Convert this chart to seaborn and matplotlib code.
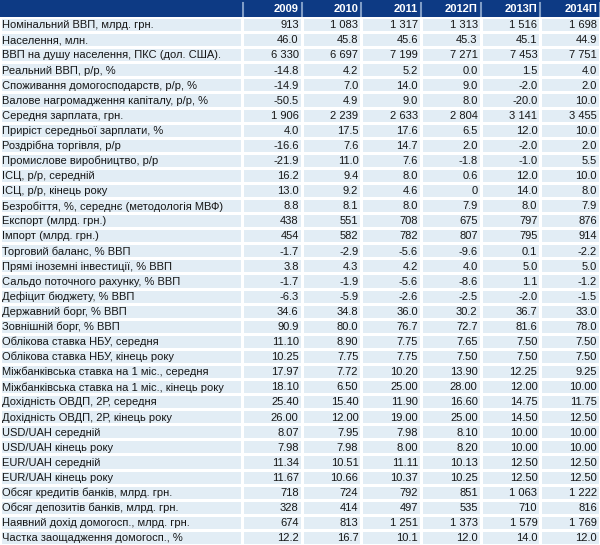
import numpy as np
import matplotlib
matplotlib.use("Agg")
import matplotlib.pyplot as plt
import seaborn as sns
from matplotlib.colors import ListedColormap

# Table data
years = ["2009", "2010", "2011", "2012П", "2013П", "2014П"]

labels = [
    "Номінальний ВВП, млрд. грн.",
    "Населення, млн.",
    "ВВП на душу населення, ПКС (дол. США).",
    "Реальний ВВП, р/р, %",
    "Споживання домогосподарств, р/р, %",
    "Валове нагромадження капіталу, р/р, %",
    "Середня зарплата, грн.",
    "Приріст середньої зарплати, %",
    "Роздрібна торгівля, р/р",
    "Промислове виробництво, р/р",
    "ІСЦ, р/р, середній",
    "ІСЦ, р/р, кінець року",
    "Безробіття, %, середнє (методологія МВФ)",
    "Експорт (млрд. грн.)",
    "Імпорт (млрд. грн.)",
    "Торговий баланс, % ВВП",
    "Прямі іноземні інвестиції, % ВВП",
    "Сальдо поточного рахунку, % ВВП",
    "Дефіцит бюджету, % ВВП",
    "Державний борг, % ВВП",
    "Зовнішній борг, % ВВП",
    "Облікова ставка НБУ, середня",
    "Облікова ставка НБУ, кінець року",
    "Міжбанківська ставка на 1 міс., середня",
    "Міжбанківська ставка на 1 міс., кінець року",
    "Дохідність ОВДП, 2Р, середня",
    "Дохідність ОВДП, 2Р, кінець року",
    "USD/UAH середній",
    "USD/UAH кінець року",
    "EUR/UAH середній",
    "EUR/UAH кінець року",
    "Обсяг кредитів банків, млрд. грн.",
    "Обсяг депозитів банків, млрд. грн.",
    "Наявний дохід домогосп., млрд. грн.",
    "Частка заощадження домогосп., %",
]

y2009 = ["913", "46.0", "6 330", "-14.8", "-14.9", "-50.5", "1 906", "4.0", "-16.6", "-21.9",
         "16.2", "13.0", "8.8", "438", "454", "-1.7", "3.8", "-1.7", "-6.3", "34.6", "90.9",
         "11.10", "10.25", "17.97", "18.10", "25.40", "26.00", "8.07", "7.98", "11.34", "11.67",
         "718", "328", "674", "12.2"]
y2010 = ["1 083", "45.8", "6 697", "4.2", "7.0", "4.9", "2 239", "17.5", "7.6", "11.0",
         "9.4", "9.2", "8.1", "551", "582", "-2.9", "4.3", "-1.9", "-5.9", "34.8", "80.0",
         "8.90", "7.75", "7.72", "6.50", "15.40", "12.00", "7.95", "7.98", "10.51", "10.66",
         "724", "414", "813", "16.7"]
y2011 = ["1 317", "45.6", "7 199", "5.2", "14.0", "9.0", "2 633", "17.6", "14.7", "7.6",
         "8.0", "4.6", "8.0", "708", "782", "-5.6", "4.2", "-5.6", "-2.6", "36.0", "76.7",
         "7.75", "7.75", "10.20", "25.00", "11.90", "19.00", "7.98", "8.00", "11.11", "10.37",
         "792", "497", "1 251", "10.1"]
y2012 = ["1 313", "45.3", "7 271", "0.0", "9.0", "8.0", "2 804", "6.5", "2.0", "-1.8",
         "0.6", "0", "7.9", "675", "807", "-9.6", "4.0", "-8.6", "-2.5", "30.2", "72.7",
         "7.65", "7.50", "13.90", "28.00", "16.60", "25.00", "8.10", "8.20", "10.13", "10.25",
         "851", "535", "1 373", "12.0"]
y2013 = ["1 516", "45.1", "7 453", "1.5", "-2.0", "-20.0", "3 141", "12.0", "-2.0", "-1.0",
         "12.0", "14.0", "8.0", "797", "795", "0.1", "5.0", "1.1", "-2.0", "36.7", "81.6",
         "7.50", "7.50", "12.25", "12.00", "14.75", "14.50", "10.00", "10.00", "12.50", "12.50",
         "1 063", "710", "1 579", "14.0"]
y2014 = ["1 698", "44.9", "7 751", "4.0", "2.0", "10.0", "3 455", "10.0", "2.0", "5.5",
         "10.0", "8.0", "7.9", "876", "914", "-2.2", "5.0", "-1.2", "-1.5", "33.0", "78.0",
         "7.50", "7.50", "9.25", "10.00", "11.75", "12.50", "10.00", "10.00", "12.50", "12.50",
         "1 222", "816", "1 769", "12.0"]

cols = [y2009, y2010, y2011, y2012, y2013, y2014]
cells = np.array(cols).T  # rows x years

plt.rcParams['font.family'] = ['Liberation Sans', 'DejaVu Sans']

navy = "#0D3A84"
body = "#E2EDF5"
sep = "#7F9CC6"
fs = 8.0

W, H = 600, 545
head_h = 17
label_w = 242
fig = plt.figure(figsize=(W / 100, H / 100), dpi=100)

def px_axes(x, y, w, h):
    # y measured from top of the image
    return fig.add_axes([x / W, 1 - (y + h) / H, w / W, h / H])

n = len(labels)
ax_hl = px_axes(0, 0, label_w, head_h)
ax_hr = px_axes(label_w, 0, W - label_w, head_h)
ax_bl = px_axes(0, head_h, label_w, H - head_h)
ax_br = px_axes(label_w, head_h, W - label_w, H - head_h)

cmap_head = ListedColormap([navy])
cmap_body = ListedColormap([body])

sns.heatmap(np.zeros((1, 1)), ax=ax_hl, cmap=cmap_head, cbar=False,
            xticklabels=False, yticklabels=False)
sns.heatmap(np.zeros((1, len(years))), ax=ax_hr, cmap=cmap_head, cbar=False,
            xticklabels=False, yticklabels=False)
sns.heatmap(np.zeros((n, 1)), ax=ax_bl, cmap=cmap_body, cbar=False,
            linewidths=0.9, linecolor="white", xticklabels=False, yticklabels=False)
sns.heatmap(np.zeros((n, len(years))), ax=ax_br, cmap=cmap_body, cbar=False,
            linewidths=0.9, linecolor="white", xticklabels=False, yticklabels=False)

# header separators and year labels
ax_hr.axvline(0.02, ymin=0, ymax=0.85, color=sep, lw=1.5)
for j, yr in enumerate(years):
    ax_hr.axvline(j + 1, ymin=0, ymax=0.85, color=sep, lw=1.5)
    ax_hr.text(j + 0.95, 0.5, yr, ha="right", va="center", color="white",
               fontsize=fs, fontweight="bold")

# row labels
for i, lab in enumerate(labels):
    ax_bl.text(2 / label_w, i + 0.55, lab, ha="left", va="center",
               color="#161616", fontsize=fs)

# values
for i in range(n):
    for j in range(len(years)):
        ax_br.text(j + 0.95, i + 0.55, cells[i, j], ha="right", va="center",
                   color="#161616", fontsize=fs)

for ax in (ax_hl, ax_hr, ax_bl, ax_br):
    ax.set_axis_off()

fig.savefig("out.png", dpi=100)
